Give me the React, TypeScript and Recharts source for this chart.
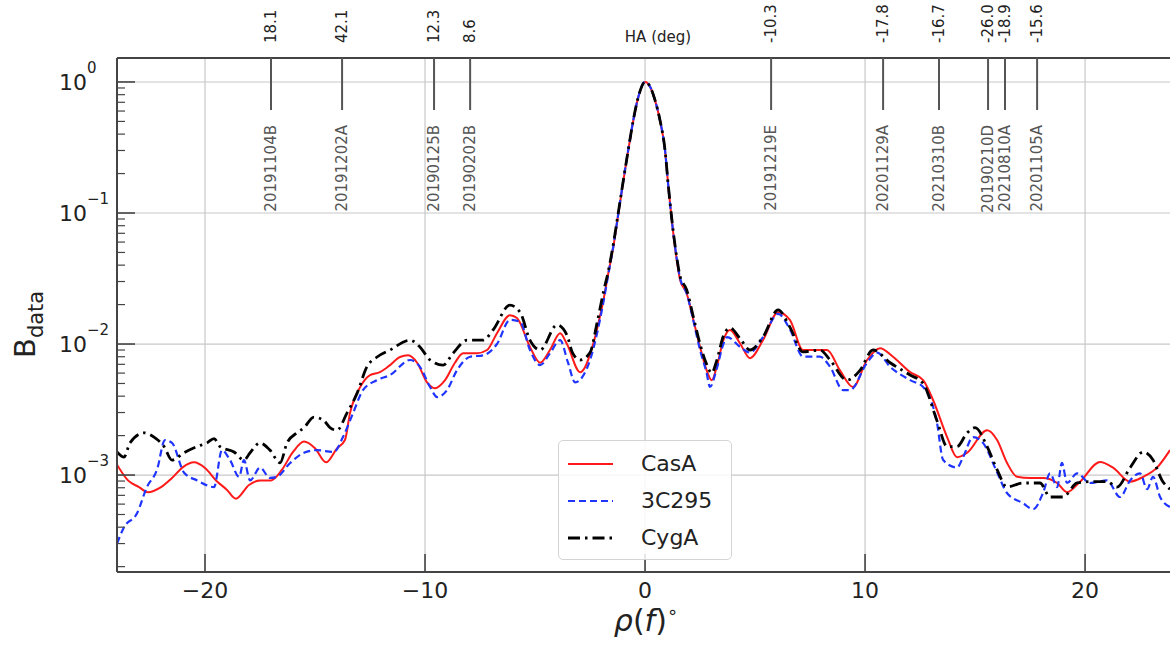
import React from "react";
import {
  LineChart,
  Line,
  XAxis,
  YAxis,
  CartesianGrid,
  ReferenceLine,
  Legend,
} from "recharts";

// beam profile readings, [rho (deg), B_data]
const casA: [number, number][] = [
  [-24, 1.2e-3], [-23.5, 9.1e-4], [-23, 8.1e-4], [-22.6, 7.4e-4], [-22, 8.1e-4],
  [-21.5, 9.5e-4], [-21, 1.15e-3], [-20.5, 1.25e-3], [-20, 1.13e-3], [-19.5, 9.1e-4],
  [-19, 7.7e-4], [-18.6, 6.6e-4], [-18, 8.4e-4], [-17.5, 9.1e-4], [-17, 9.1e-4],
  [-16.5, 1.1e-3], [-16, 1.5e-3], [-15.5, 1.8e-3], [-15, 1.6e-3], [-14.5, 1.25e-3],
  [-14, 1.6e-3], [-13.64, 1.85e-3], [-13.41, 2.97e-3], [-12.95, 4.69e-3], [-12.5, 5.8e-3],
  [-12.05, 6.1e-3], [-11.59, 6.9e-3], [-11.14, 7.96e-3], [-10.77, 8.2e-3], [-10.36, 7.2e-3],
  [-9.91, 5.1e-3], [-9.55, 4.6e-3], [-9.09, 5.3e-3], [-8.64, 7.2e-3], [-8.27, 8.5e-3],
  [-7.64, 8.5e-3], [-7.18, 9.0e-3], [-6.73, 1.21e-2], [-6.14, 1.66e-2], [-5.82, 1.58e-2],
  [-5.23, 9.5e-3], [-4.77, 7.2e-3], [-4.32, 9.0e-3], [-3.86, 1.21e-2], [-3.55, 1.0e-2],
  [-2.95, 6.1e-3], [-2.35, 1.01e-2], [-2.12, 1.44e-2], [-1.89, 2.17e-2], [-1.67, 3.47e-2],
  [-1.44, 5.53e-2], [-1.21, 0.0995], [-0.98, 0.179], [-0.76, 0.303], [-0.53, 0.513],
  [-0.3, 0.773], [0, 1.0], [0.23, 0.92], [0.45, 0.73], [0.68, 0.51],
  [0.91, 0.3], [1.06, 0.159], [1.21, 0.09], [1.44, 0.044], [1.59, 0.031],
  [1.89, 0.0244], [2.2, 0.0152], [2.5, 0.0095], [2.8, 6.3e-3], [3.03, 5.3e-3],
  [3.26, 6.7e-3], [3.56, 1.07e-2], [3.86, 1.28e-2], [4.32, 1.01e-2], [4.77, 7.8e-3],
  [5.36, 1.07e-2], [6.05, 1.75e-2], [6.59, 1.52e-2], [7.18, 9.0e-3], [7.82, 9.0e-3],
  [8.27, 9.0e-3], [8.86, 6.3e-3], [9.45, 4.7e-3], [10.09, 7.55e-3], [10.68, 9.3e-3],
  [11.27, 8.0e-3], [12.05, 6.1e-3], [12.64, 5.3e-3], [13.09, 3.74e-3], [13.73, 1.95e-3],
  [14.18, 1.37e-3], [14.64, 1.48e-3], [15.55, 2.2e-3], [16.0, 1.85e-3], [16.45, 1.24e-3],
  [16.91, 9.7e-4], [17.5, 9.5e-4], [18.09, 9.5e-4], [18.73, 8.7e-4], [19.18, 7.4e-4],
  [19.77, 8.9e-4], [20.68, 1.26e-3], [21.27, 1.14e-3], [22.05, 8.9e-4], [22.64, 9.7e-4],
  [23.27, 1.14e-3], [23.86, 1.55e-3],
];

const c3C295: [number, number][] = [
  [-24, 3.0e-4], [-23.68, 4.0e-4], [-23.09, 5.1e-4], [-22.64, 8.1e-4], [-22.18, 1.1e-3],
  [-21.82, 1.85e-3], [-21.5, 1.76e-3], [-20.95, 1.04e-3], [-20.36, 9.1e-4], [-19.59, 8.1e-4],
  [-19.23, 1.55e-3], [-18.86, 1.3e-3], [-18.45, 9.7e-4], [-18.23, 1.3e-3], [-17.95, 9.1e-4],
  [-17.5, 1.14e-3], [-17.05, 9.5e-4], [-16.73, 9.7e-4], [-16.14, 1.23e-3], [-15.5, 1.48e-3],
  [-14.91, 1.55e-3], [-14.14, 1.5e-3], [-13.73, 1.95e-3], [-13.27, 2.97e-3], [-12.82, 4.45e-3],
  [-12.18, 5.3e-3], [-11.59, 5.8e-3], [-10.68, 7.55e-3], [-10.23, 6.7e-3], [-9.77, 4.7e-3],
  [-9.45, 3.94e-3], [-9.0, 4.45e-3], [-8.55, 6.3e-3], [-7.95, 8.0e-3], [-7.36, 8.2e-3],
  [-6.73, 1.0e-2], [-6.14, 1.53e-2], [-5.68, 1.48e-2], [-5.23, 9.0e-3], [-4.77, 6.9e-3],
  [-4.32, 8.5e-3], [-3.86, 1.07e-2], [-3.5, 7.2e-3], [-3.18, 5.1e-3], [-2.5, 7.55e-3],
  [-2.18, 1.21e-2], [-1.89, 2.1e-2], [-1.67, 3.4e-2], [-1.44, 5.6e-2], [-1.21, 0.1],
  [-0.98, 0.18], [-0.76, 0.305], [-0.53, 0.515], [-0.3, 0.775], [0, 1.0],
  [0.23, 0.92], [0.45, 0.73], [0.68, 0.51], [0.91, 0.3], [1.06, 0.159],
  [1.21, 0.09], [1.44, 0.045], [1.59, 0.032], [1.89, 0.0244], [2.2, 0.015],
  [2.5, 9.0e-3], [2.8, 6.0e-3], [2.95, 4.7e-3], [3.26, 6.5e-3], [3.56, 1.0e-2],
  [3.73, 1.13e-2], [4.32, 9.5e-3], [4.77, 8.6e-3], [5.36, 1.13e-2], [6.05, 1.7e-2],
  [6.59, 1.29e-2], [7.18, 8.0e-3], [7.95, 8.0e-3], [8.41, 6.7e-3], [9.0, 4.45e-3],
  [9.32, 4.45e-3], [10.09, 7.2e-3], [10.55, 8.6e-3], [11.14, 6.7e-3], [12.05, 5.3e-3],
  [12.64, 4.7e-3], [13.27, 2.5e-3], [13.55, 1.3e-3], [14.18, 1.14e-3], [14.45, 1.36e-3],
  [14.91, 1.95e-3], [15.36, 1.76e-3], [16.0, 1.05e-3], [16.45, 7.3e-4], [17.18, 6.1e-4],
  [17.64, 5.5e-4], [18.09, 7.3e-4], [18.41, 1.03e-3], [18.73, 8.1e-4], [18.95, 1.24e-3],
  [19.18, 8.7e-4], [19.64, 1.03e-3], [20.23, 8.7e-4], [21.0, 9.1e-4], [21.59, 6.8e-4],
  [22.05, 9.1e-4], [22.5, 1.03e-3], [22.82, 7.8e-4], [23.09, 9.7e-4], [23.41, 6.8e-4],
  [23.86, 5.7e-4],
];

const cygA: [number, number][] = [
  [-24, 1.5e-3], [-23.68, 1.37e-3], [-23.41, 1.76e-3], [-22.77, 2.1e-3], [-22.32, 1.95e-3],
  [-21.86, 1.65e-3], [-21.5, 1.3e-3], [-20.95, 1.48e-3], [-20.36, 1.65e-3], [-19.91, 1.76e-3],
  [-19.59, 1.9e-3], [-19.32, 1.65e-3], [-18.68, 1.5e-3], [-18.23, 1.3e-3], [-17.95, 1.48e-3],
  [-17.5, 1.76e-3], [-17.05, 1.55e-3], [-16.59, 1.24e-3], [-16.27, 1.76e-3], [-15.82, 2.1e-3],
  [-15.5, 2.3e-3], [-15.05, 2.77e-3], [-14.59, 2.6e-3], [-14.32, 2.3e-3], [-14.0, 2.2e-3],
  [-13.55, 2.97e-3], [-13.09, 4.2e-3], [-12.64, 6.7e-3], [-12.18, 7.96e-3], [-11.59, 9.0e-3],
  [-10.68, 1.07e-2], [-10.23, 9.5e-3], [-9.77, 7.55e-3], [-9.18, 6.9e-3], [-8.73, 8.5e-3],
  [-8.09, 1.07e-2], [-7.36, 1.07e-2], [-6.91, 1.28e-2], [-6.14, 1.98e-2], [-5.68, 1.75e-2],
  [-5.23, 1.07e-2], [-4.77, 9.0e-3], [-4.0, 1.4e-2], [-3.55, 1.17e-2], [-3.3, 8.6e-3],
  [-2.95, 7.55e-3], [-2.5, 8.6e-3], [-2.18, 1.45e-2], [-1.89, 2.5e-2], [-1.67, 3.6e-2],
  [-1.44, 5.8e-2], [-1.21, 0.102], [-0.98, 0.18], [-0.76, 0.305], [-0.53, 0.515],
  [-0.3, 0.775], [0, 1.0], [0.23, 0.92], [0.45, 0.73], [0.68, 0.51],
  [0.91, 0.3], [1.06, 0.16], [1.21, 0.092], [1.44, 0.046], [1.59, 0.033],
  [1.89, 0.026], [2.2, 0.016], [2.5, 1.0e-2], [2.8, 7.0e-3], [3.03, 6.0e-3],
  [3.26, 7.5e-3], [3.56, 1.15e-2], [3.86, 1.33e-2], [4.32, 1.1e-2], [4.77, 9.0e-3],
  [5.36, 1.13e-2], [6.05, 1.82e-2], [6.59, 1.34e-2], [7.18, 8.7e-3], [7.95, 9.0e-3],
  [8.41, 7.55e-3], [9.18, 5.3e-3], [9.77, 6.3e-3], [10.36, 9.0e-3], [11.14, 7.2e-3],
  [12.05, 5.8e-3], [12.64, 5.0e-3], [13.27, 2.6e-3], [13.73, 1.65e-3], [14.18, 1.65e-3],
  [14.64, 2.1e-3], [15.0, 2.3e-3], [15.55, 1.65e-3], [16.0, 1.1e-3], [16.45, 8.1e-4],
  [17.18, 8.7e-4], [17.95, 8.7e-4], [18.41, 6.8e-4], [19.0, 6.8e-4], [19.64, 8.7e-4],
  [20.23, 8.9e-4], [21.0, 8.9e-4], [21.45, 8.1e-4], [22.05, 1.14e-3], [22.64, 1.5e-3],
  [23.09, 1.3e-3], [23.5, 9.1e-4], [23.86, 7.8e-4],
];

// observation markers along the top axis
const markerRho = [-17.0, -13.77, -9.59, -7.95, 5.73, 10.82, 13.36, 15.59, 16.36, 17.82];
const markerHA = ["18.1", "42.1", "12.3", "8.6", "-10.3", "-17.8", "-16.7", "-26.0", "-18.9", "-15.6"];
const markerObs = [
  "20191104B", "20191202A", "20190125B", "20190202B", "20191219E",
  "20201129A", "20210310B", "20190210D", "20210810A", "20201105A",
];

const xTicks = [-20, -10, 0, 10, 20];
const yMajor = [1e-3, 1e-2, 1e-1, 1];

const X_MIN = -24;
const X_MAX = 23.86;
const Y_MIN = 1.82e-4;
const Y_MAX = 1.524;

const W = 1170;
const H = 646;
const PLOT_LEFT = 117;
const PLOT_TOP = 58;
const PLOT_BOTTOM = 572;
const YAXIS_W = 60;
const XAXIS_H = 40;
const FONT = "'DejaVu Sans', sans-serif";
const FRAME = "#444";

const yTicks: number[] = [];
for (let e = -4; e <= 0; e++) {
  for (let m = 1; m <= 9; m++) {
    const v = m * Math.pow(10, e);
    if (v >= Y_MIN && v <= Y_MAX) yTicks.push(v);
  }
}

const toPoints = (arr: [number, number][]) => arr.map(([rho, b]) => ({ rho, b }));

const series = [
  { name: "CasA", data: toPoints(casA), color: "#ff1a1a", width: 2, dash: undefined },
  { name: "3C295", data: toPoints(c3C295), color: "#1f35ff", width: 2.2, dash: "7 4" },
  { name: "CygA", data: toPoints(cygA), color: "#000000", width: 2.8, dash: "12 5 2.5 5" },
];

const YTick = (props: any) => {
  const { y, payload } = props;
  const lg = Math.log10(payload.value);
  const exp = Math.round(lg);
  const major = Math.abs(lg - exp) < 1e-6;
  return (
    <g>
      <line
        x1={PLOT_LEFT}
        x2={PLOT_LEFT + (major ? 18 : 8)}
        y1={y}
        y2={y}
        stroke={FRAME}
        strokeWidth={major ? 1.6 : 1.2}
      />
      {major && (
        <text x={PLOT_LEFT - 30} y={y} dy="0.35em" textAnchor="end" fontSize={22} fill="#222" fontFamily={FONT}>
          10
        </text>
      )}
      {major && (
        <text x={PLOT_LEFT - 30} y={y - 9} textAnchor="start" fontSize={15} fill="#222" fontFamily={FONT}>
          {exp === 0 ? "0" : "\u2212" + Math.abs(exp)}
        </text>
      )}
    </g>
  );
};

const XTick = (props: any) => {
  const { x, payload } = props;
  const v = payload.value as number;
  return (
    <g>
      <line x1={x} x2={x} y1={PLOT_BOTTOM} y2={PLOT_BOTTOM - 18} stroke={FRAME} strokeWidth={1.6} />
      <text x={x} y={PLOT_BOTTOM + 26} textAnchor="middle" fontSize={22} fill="#222" fontFamily={FONT}>
        {v < 0 ? "\u2212" + Math.abs(v) : String(v)}
      </text>
    </g>
  );
};

const markerShape = (i: number) => (props: any) => {
  const { x1, y1, y2 } = props;
  const top = Math.min(y1, y2);
  return (
    <g>
      <line x1={x1} x2={x1} y1={top} y2={top + 52} stroke="#555" strokeWidth={2} />
      <text
        transform={`translate(${x1},${top - 15}) rotate(-90)`}
        dy="0.35em"
        textAnchor="start"
        fontSize={15}
        fill="#222"
        fontFamily={FONT}
      >
        {markerHA[i]}
      </text>
      <text
        transform={`translate(${x1},${top + 67}) rotate(-90)`}
        dy="0.35em"
        textAnchor="end"
        fontSize={15}
        fill="#555"
        fontFamily={FONT}
      >
        {markerObs[i]}
      </text>
    </g>
  );
};

const LegendBox = () => (
  <div
    style={{
      width: 174,
      height: 120,
      boxSizing: "border-box",
      background: "rgba(255,255,255,0.85)",
      border: "1px solid #d4d4d4",
      borderRadius: 5,
      paddingTop: 4,
      paddingLeft: 8,
      fontFamily: FONT,
      fontSize: 22,
      color: "#222",
    }}
  >
    {series.map((s) => (
      <div key={s.name} style={{ display: "flex", alignItems: "center", height: 37 }}>
        <svg width={48} height={10}>
          <line x1={1} x2={46} y1={5} y2={5} stroke={s.color} strokeWidth={s.width} strokeDasharray={s.dash} />
        </svg>
        <span style={{ marginLeft: 26 }}>{s.name}</span>
      </div>
    ))}
  </div>
);

export default function App() {
  return (
    <div style={{ position: "absolute", left: 0, top: 0, width: W, height: H, background: "#fff" }}>
      <LineChart
        width={W}
        height={H}
        margin={{ top: PLOT_TOP, right: 0, left: PLOT_LEFT - YAXIS_W, bottom: H - PLOT_BOTTOM - XAXIS_H }}
      >
        <CartesianGrid
          stroke="#c8c8c8"
          strokeWidth={1.2}
          verticalValues={xTicks}
          horizontalValues={yMajor}
        />
        <XAxis
          type="number"
          dataKey="rho"
          domain={[X_MIN, X_MAX]}
          allowDataOverflow
          ticks={xTicks}
          interval={0}
          height={XAXIS_H}
          tickLine={false}
          axisLine={{ stroke: FRAME, strokeWidth: 2 }}
          tick={<XTick />}
          label={() => (
            <text x={646} y={631} textAnchor="middle" fontSize={30} fill="#222" fontFamily={FONT}>
              <tspan fontStyle="italic">ρ</tspan>
              <tspan>(</tspan>
              <tspan fontStyle="italic">f</tspan>
              <tspan>)</tspan>
              <tspan fontSize={18} dy={-13}>∘</tspan>
            </text>
          )}
        />
        <YAxis
          type="number"
          dataKey="b"
          scale="log"
          domain={[Y_MIN, Y_MAX]}
          allowDataOverflow
          ticks={yTicks}
          interval={0}
          width={YAXIS_W}
          tickLine={false}
          axisLine={{ stroke: FRAME, strokeWidth: 2 }}
          tick={<YTick />}
          label={() => (
            <text transform="translate(35,358) rotate(-90)" fontSize={29} fill="#222" fontFamily={FONT}>
              B<tspan fontSize={21} dy={8}>data</tspan>
            </text>
          )}
        />
        <ReferenceLine y={Y_MAX} stroke={FRAME} strokeWidth={2} />
        {markerRho.map((m, i) => (
          <ReferenceLine key={markerObs[i]} x={m} shape={markerShape(i)} />
        ))}
        <ReferenceLine
          x={0.5}
          stroke="none"
          label={() => (
            <text x={658} y={42} textAnchor="middle" fontSize={15} fill="#222" fontFamily={FONT}>
              HA (deg)
            </text>
          )}
        />
        {series.map((s) => (
          <Line
            key={s.name}
            data={s.data}
            dataKey="b"
            name={s.name}
            type="monotone"
            stroke={s.color}
            strokeWidth={s.width}
            strokeDasharray={s.dash}
            dot={false}
            activeDot={false}
            isAnimationActive={false}
          />
        ))}
        <Legend
          layout="horizontal"
          verticalAlign="middle"
          align="center"
          content={<LegendBox />}
          wrapperStyle={{ position: "absolute", left: 558, top: 440, width: 174, height: 120 }}
        />
      </LineChart>
    </div>
  );
}
